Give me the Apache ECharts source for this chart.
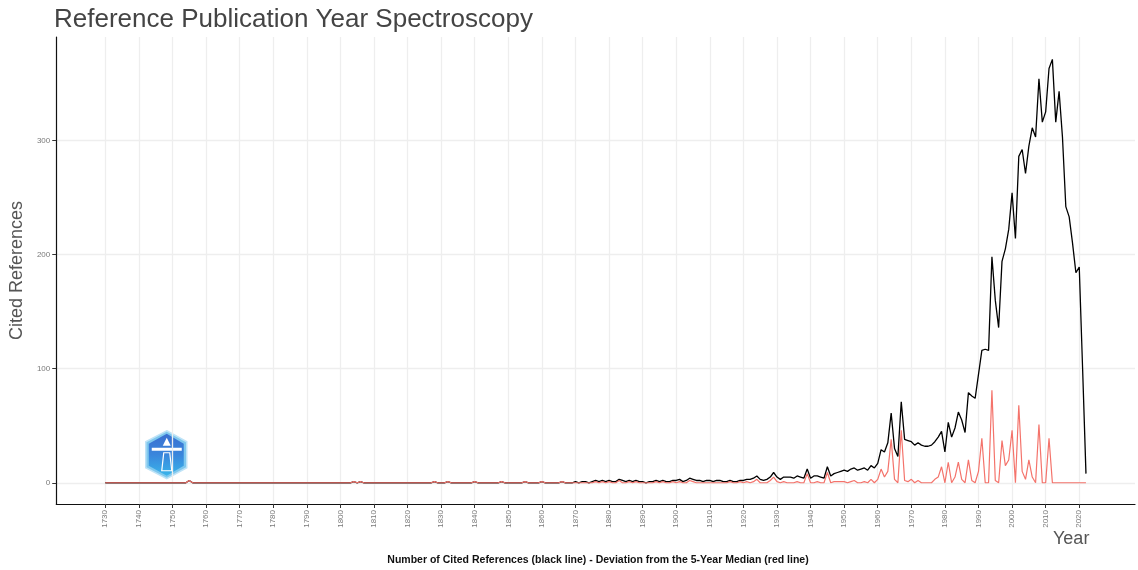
<!DOCTYPE html>
<html><head><meta charset="utf-8">
<script src="https://cdn.jsdelivr.net/npm/echarts@6/dist/echarts.min.js"></script>
<style>html,body{margin:0;padding:0;background:#fff}#c{width:1138px;height:570px}</style>
</head><body><div id="c"></div>
<script>
const firstYear = 1730;
// Number of cited references per year (black line), one row per decade from 1730
const citedCounts = [
  0,0,0,0,0,0,0,0,0,0,
  0,0,0,0,0,0,0,0,0,0,
  0,0,0,0,0,2,0,0,0,0,
  0,0,0,0,0,0,0,0,0,0,
  0,0,0,0,0,0,0,0,0,0,
  0,0,0,0,0,0,0,0,0,0,
  0,0,0,0,0,0,0,0,0,0,
  0,0,0,0,1,0,1,0,0,0,
  0,0,0,0,0,0,0,0,0,0,
  0,0,0,0,0,0,0,0,1,0,
  0,0,1,0,0,0,0,0,0,0,
  1,0,0,0,0,0,0,0,1,0,
  0,0,0,0,0,1,0,0,0,0,
  1,0,0,0,0,0,1,0,0,0,
  1,0,1,1,0,1,2,1,2,1,
  2,1,1,3,2,1,2,1,2,1,
  1,0,1,1,2,1,2,1,1,2,
  2,3,1,2,4,3,2,2,1,2,
  2,1,2,2,1,1,2,1,1,2,
  2,3,3,4,6,3,2,3,5,9,
  5,3,5,5,5,4,6,5,4,12,
  4,6,6,5,4,14,6,8,9,10,
  11,10,12,13,11,12,13,11,15,13,
  17,29,27,35,61,30,23,71,38,37,
  36,33,35,33,32,32,33,36,40,45,
  27,53,40,48,62,55,44,79,76,74,
  95,116,117,116,198,160,136,194,205,222,
  254,214,286,292,271,295,311,303,354,316,
  325,363,371,316,343,303,242,233,210,184,
  189,100,8
];
// Deviation from the 5-year median (red line)
const medianDeviation = [
  0,0,0,0,0,0,0,0,0,0,
  0,0,0,0,0,0,0,0,0,0,
  0,0,0,0,0,2,0,0,0,0,
  0,0,0,0,0,0,0,0,0,0,
  0,0,0,0,0,0,0,0,0,0,
  0,0,0,0,0,0,0,0,0,0,
  0,0,0,0,0,0,0,0,0,0,
  0,0,0,0,1,0,1,0,0,0,
  0,0,0,0,0,0,0,0,0,0,
  0,0,0,0,0,0,0,0,1,0,
  0,0,1,0,0,0,0,0,0,0,
  1,0,0,0,0,0,0,0,1,0,
  0,0,0,0,0,1,0,0,0,0,
  1,0,0,0,0,0,1,0,0,0,
  0,0,0,0,0,0,1,0,1,0,
  1,0,0,2,0,0,1,0,1,0,
  0,0,0,0,1,0,1,0,0,1,
  0,1,0,0,2,1,0,0,0,0,
  0,0,0,0,0,0,1,0,0,1,
  0,1,0,1,3,0,0,0,2,5,
  1,0,1,0,0,0,1,0,0,8,
  0,0,1,0,0,9,0,1,1,1,
  1,0,1,2,0,0,1,0,3,0,
  3,12,5,10,38,3,0,46,2,1,
  3,0,2,0,0,0,0,3,5,14,
  0,18,0,5,18,3,0,20,2,0,
  10,39,0,0,81,2,0,37,15,20,
  46,0,68,10,3,20,5,0,51,0,
  0,39,0,0,0,0,0,0,0,0,
  0,0,0
];
const xTickYears = [1730,1740,1750,1760,1770,1780,1790,1800,1810,1820,1830,1840,1850,1860,1870,
  1880,1890,1900,1910,1920,1930,1940,1950,1960,1970,1980,1990,2000,2010,2020];
const yTickValues = [0,100,200,300];

const blackData = citedCounts.map((v, i) => [firstYear + i, v]);
const redData = medianDeviation.map((v, i) => [firstYear + i, v]);

const FONT = 'Liberation Sans, Arial, sans-serif';
const chart = echarts.init(document.getElementById('c'), null, {renderer: 'canvas'});
chart.setOption({
  animation: false,
  backgroundColor: '#ffffff',
  title: {
    text: 'Reference Publication Year Spectroscopy',
    left: 49, top: 2,
    textStyle: {fontFamily: FONT, fontSize: 26, fontWeight: 'normal', color: '#444444'}
  },
  grid: {left: 50, right: 3, top: 37, bottom: 66, containLabel: false},
  xAxis: {
    type: 'value', min: 1715.4, max: 2036.6,
    axisLine: {show: true, onZero: false, lineStyle: {color: '#111111', width: 1.2}},
    axisTick: {show: true, customValues: xTickYears, length: 4, lineStyle: {color: '#333333'}},
    axisLabel: {customValues: xTickYears, rotate: 90, fontSize: 8, color: '#7a7a7a', fontFamily: FONT, margin: 6,
      formatter: v => String(v)},
    splitLine: {show: true, lineStyle: {color: '#eeeeee', width: 1.3}}
  },
  yAxis: {
    type: 'value', min: -18.6, max: 390.6,
    name: 'Cited References', nameLocation: 'middle', nameGap: 26, nameRotate: 90,
    nameTextStyle: {fontFamily: FONT, fontSize: 18, color: '#555555'},
    axisLine: {show: true, lineStyle: {color: '#111111', width: 1.2}},
    axisTick: {show: true, customValues: yTickValues, length: 4, lineStyle: {color: '#333333'}},
    axisLabel: {customValues: yTickValues, fontSize: 8, color: '#7a7a7a', fontFamily: FONT, margin: 6,
      formatter: v => String(v)},
    splitLine: {show: true, lineStyle: {color: '#eeeeee', width: 1.3}}
  },
  graphic: [
    {type: 'text', left: 1053, top: 530, style: {text: 'Year', font: '18px ' + FONT, fill: '#555555'}},
    {type: 'text', x: 598, y: 560, style: {text: 'Number of Cited References (black line) - Deviation from the 5-Year Median (red line)', font: 'bold 10.5px ' + FONT, fill: '#111111', align: 'center', verticalAlign: 'middle'}},
    {type: 'group', left: 145, top: 430, children: [
      {type: 'polygon', shape: {points: [[21,0],[41,11],[41,37],[21,48],[0,37],[0,11]]},
        style: {fill: '#7fc8ee', stroke: '#bfe3f7', lineWidth: 1.5}},
      {type: 'polygon', shape: {points: [[21,3],[38,13],[38,35],[21,45],[3,35],[3,13]]},
        style: {fill: new echarts.graphic.LinearGradient(0,0,0,1,[{offset:0,color:'#3b6fd0'},{offset:0.5,color:'#3a86dc'},{offset:1,color:'#39b4ea'}])}},
      {type: 'rect', shape: {x: 6, y: 17, width: 30, height: 3}, style: {fill: '#ffffff'}},
      {type: 'polygon', shape: {points: [[18,22],[24,22],[26,40],[16,40]]}, style: {fill: 'none', stroke: '#ffffff', lineWidth: 1.2}},
      {type: 'polygon', shape: {points: [[21,7],[25,15],[17,15]]}, style: {fill: '#ffffff'}}
    ]}
  ],
  series: [
    {type: 'line', data: blackData, showSymbol: false, symbol: 'none', lineStyle: {color: '#000000', width: 1.3}, z: 2},
    {type: 'line', data: redData, showSymbol: false, symbol: 'none', lineStyle: {color: '#f4736b', width: 1.2}, z: 3}
  ]
});
</script>
</body></html>
